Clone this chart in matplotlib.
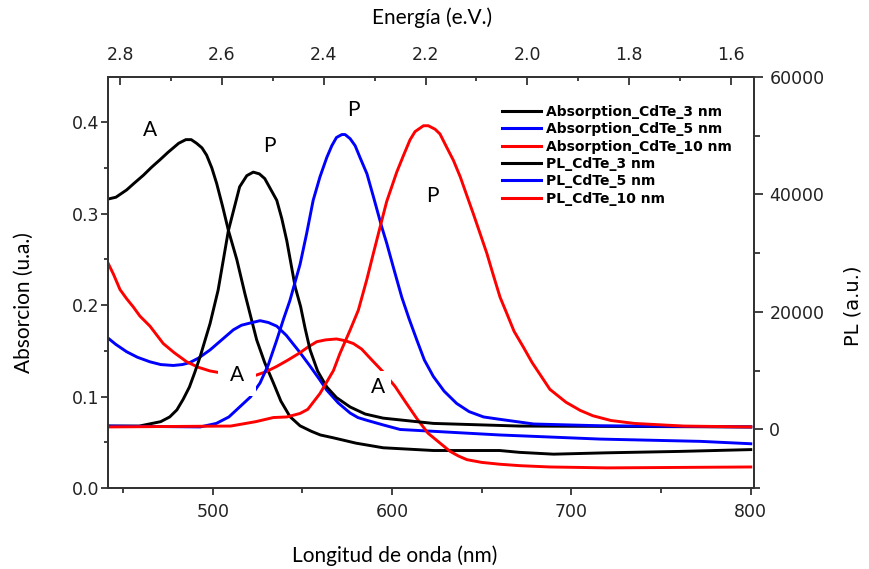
import numpy as np
import matplotlib
matplotlib.use('Agg')
import matplotlib.pyplot as plt
from matplotlib.ticker import MultipleLocator

plt.rcParams.update({'font.family': 'DejaVu Sans', 'axes.linewidth': 1.4})

### absorption spectra (left axis, u.a.)
wl_abs3 = [441.6, 446, 452, 456, 461.3, 466, 470.6, 475, 478, 481, 485, 488, 491, 494, 496.6, 499.5,
           502.2, 505.5, 508.7, 513.4, 518, 524.5, 529, 533.8, 538, 543.1, 548.7, 555, 560, 567, 580,
           595, 623, 660, 671, 690, 720, 760, 800]
abs3 = [0.316, 0.318, 0.326, 0.333, 0.342, 0.351, 0.359, 0.367, 0.372, 0.377, 0.381, 0.381, 0.377, 0.372,
        0.364, 0.350, 0.333, 0.308, 0.282, 0.250, 0.212, 0.162, 0.137, 0.115, 0.095, 0.078, 0.068, 0.062,
        0.058, 0.055, 0.049, 0.044, 0.041, 0.041, 0.039, 0.037, 0.0385, 0.040, 0.042]

wl_abs5 = [441.6, 446, 452, 458, 465, 471, 478, 483, 487, 492, 498.5, 505, 511.5, 516, 520, 526.4,
           531, 535.7, 541, 548.7, 554, 559.8, 563.6, 570, 576.6, 581, 586, 595, 604.5, 623, 660, 716,
           772, 800]
abs5 = [0.164, 0.157, 0.149, 0.143, 0.138, 0.135, 0.134, 0.135, 0.137, 0.142, 0.151, 0.162, 0.173, 0.178,
        0.180, 0.183, 0.181, 0.177, 0.167, 0.148, 0.134, 0.118, 0.107, 0.093, 0.082, 0.077, 0.074, 0.069,
        0.064, 0.062, 0.058, 0.0535, 0.051, 0.0484]

wl_abs10 = [441.6, 444.6, 448.3, 452, 455.7, 459.4, 465, 468.5, 472.4, 478.5, 485.5, 492, 498.5, 510,
            523.6, 529.5, 535.7, 542, 548.7, 553, 558, 563, 569, 574, 578.4, 583, 588.7, 595, 601.7,
            607.5, 613.8, 620, 626.8, 632.4, 637, 641.7, 650, 660, 671.4, 688, 720, 760, 800]
abs10 = [0.246, 0.234, 0.217, 0.207, 0.198, 0.188, 0.177, 0.168, 0.158, 0.148, 0.138, 0.132, 0.128, 0.124,
         0.123, 0.127, 0.133, 0.140, 0.148, 0.154, 0.160, 0.162, 0.163, 0.161, 0.158, 0.152, 0.140, 0.127,
         0.111, 0.094, 0.076, 0.060, 0.049, 0.040, 0.035, 0.031, 0.028, 0.026, 0.0244, 0.023, 0.022, 0.0225,
         0.023]

### photoluminescence (right axis, a.u.)
wl_pl3 = [441.6, 459, 471, 476, 480, 483.5, 487, 490, 493, 498.5, 503, 508.7, 515, 519, 522.6, 526,
          529, 535.7, 538.5, 541.3, 546, 549, 551.5, 554.3, 558.5, 563.6, 569, 576.6, 585, 595, 623,
          671, 800]
pl3 = [550, 550, 1300, 2100, 3300, 5100, 7200, 9700, 12400, 18000, 23700, 33800, 41300, 43200, 43800,
       43500, 42700, 39000, 35900, 32100, 24200, 20900, 17200, 13500, 9900, 7200, 5400, 3800, 2600, 1900,
       1000, 550, 400]

wl_pl5 = [441.6, 493, 502, 509, 515, 521, 526.4, 531, 535.7, 539.5, 543, 548.7, 552.4, 556, 559.8,
          563.6, 566.4, 569, 572, 573.8, 576.6, 579.4, 582.1, 586, 589.6, 594.2, 597, 600.7, 605.4,
          609.5, 613.8, 618, 623, 629, 636, 643, 651, 660, 679, 716, 800]
pl5 = [550, 400, 1000, 2100, 3800, 5500, 7900, 11000, 15200, 18800, 21900, 28100, 33400, 39000, 43000,
       46300, 48300, 49700, 50200, 50200, 49500, 48300, 46300, 43500, 39600, 34500, 31700, 27600, 22500,
       18800, 15200, 11800, 9000, 6500, 4400, 3000, 2100, 1700, 900, 600, 400]

wl_pl10 = [441.6, 510, 524, 533.8, 541.3, 548.7, 553, 559.8, 567.3, 570.9, 576.6, 581.2, 585.9, 589.6,
           594.2, 597, 602.6, 606.3, 610, 612.8, 617.5, 620.2, 624, 626.7, 630.5, 634.2, 638, 641.7,
           645.3, 649, 652.8, 656.5, 660.2, 664, 668, 673, 678, 688, 697, 705, 712, 722, 735, 762.5, 800]
pl10 = [400, 550, 1300, 2000, 2100, 2700, 3400, 6100, 10000, 12900, 16900, 20300, 25500, 30000,
        35500, 38800, 43800, 46600, 49300, 50700, 51700, 51700, 51100, 50300, 48000, 45800, 43000, 39800,
        36700, 33400, 30000, 26200, 22500, 19700, 16700, 14100, 11400, 6800, 4600, 3200, 2300, 1500, 1000,
        550, 400]

labels = ['Absorption_CdTe_3 nm', 'Absorption_CdTe_5 nm', 'Absorption_CdTe_10 nm',
          'PL_CdTe_3 nm', 'PL_CdTe_5 nm', 'PL_CdTe_10 nm']
colors = ['black', '#0000ff', '#ff0000']

# peak markers: (text, wavelength, absorbance)
peak_notes = [('A', 465.0, 0.392), ('P', 531.4, 0.374), ('P', 578.2, 0.4135), ('P', 622.3, 0.319)]
gap_notes = [('A', 513.5, 0.124, 8.5), ('A', 592.2, 0.111, 4.0)]

calibri_like = ['Lato', 'DejaVu Sans']
spine_col = '#333333'

fig = plt.figure(figsize=(8.69, 5.69), dpi=100)
ax = fig.add_axes([108 / 869, 1 - 488 / 569, 646 / 869, 411 / 569])
axr = ax.twinx()
axt = ax.twiny()

lw = 2.1
h_abs = []
for wl, y, c in zip([wl_abs3, wl_abs5, wl_abs10], [abs3, abs5, abs10], colors):
    h_abs += ax.plot(wl, y, color=c, lw=lw, solid_joinstyle='round')
h_pl = []
for wl, y, c in zip([wl_pl3, wl_pl5, wl_pl10], [pl3, pl5, pl10], colors):
    h_pl += axr.plot(wl, y, color=c, lw=lw, solid_joinstyle='round')

ax.set_xlim(441.6, 801.8)
ax.set_ylim(0, 0.4495)
axr.set_ylim(-10000, 60000)
axt.set_xlim(2.8236, 1.5548)

ax.xaxis.set_major_locator(MultipleLocator(100))
ax.xaxis.set_minor_locator(MultipleLocator(50))
ax.yaxis.set_major_locator(MultipleLocator(0.1))
ax.yaxis.set_minor_locator(MultipleLocator(0.05))
axr.yaxis.set_major_locator(MultipleLocator(20000))
axr.yaxis.set_minor_locator(MultipleLocator(10000))
axt.xaxis.set_major_locator(MultipleLocator(0.2))
axt.xaxis.set_minor_locator(MultipleLocator(0.1))

tick_kw = dict(labelsize=12.5, labelcolor='#222222', color=spine_col, width=1.3)
ax.tick_params(axis='x', which='major', direction='out', length=5, pad=6, **tick_kw)
ax.tick_params(axis='x', which='minor', direction='out', length=3.5, color=spine_col, width=1.3)
ax.tick_params(axis='y', which='major', direction='out', length=4.8, pad=1.5, **tick_kw)
ax.tick_params(axis='y', which='minor', direction='out', length=3, color=spine_col, width=1.3)
axr.tick_params(axis='y', which='major', direction='out', length=6.5, pad=4.5, **tick_kw)
axr.tick_params(axis='y', which='minor', direction='out', length=4.3, color=spine_col, width=1.3)
axt.tick_params(axis='x', which='major', direction='in', length=6, pad=9, **tick_kw)
axt.tick_params(axis='x', which='minor', direction='in', length=3, color=spine_col, width=1.3)

for a in (ax, axr, axt):
    for s in a.spines.values():
        s.set_color(spine_col)
        s.set_linewidth(1.4)

for txt, x, y in peak_notes:
    axt.text(x, y, txt, transform=ax.transData, ha='center', va='center',
             fontsize=15, family=calibri_like, zorder=10)
for txt, x, y, p in gap_notes:
    axt.text(x, y, txt, transform=ax.transData, ha='center', va='center',
             fontsize=15, family=calibri_like, zorder=10,
             bbox=dict(facecolor='white', edgecolor='none', pad=p))

leg = axt.legend(h_abs + h_pl, labels, loc='upper left', bbox_to_anchor=(502 / 869, 1 - 105 / 569),
                 bbox_transform=fig.transFigure, frameon=False, borderpad=0, borderaxespad=0,
                 handlelength=2.8, handletextpad=0.35, labelspacing=0.24,
                 prop={'family': 'DejaVu Sans', 'weight': 'bold', 'size': 10})
for line in leg.get_lines():
    line.set_linewidth(2.2)

fig.text(432 / 869, 1 - 18 / 569, 'Energía (e.V.)', ha='center', va='center', fontsize=15, family=calibri_like)
fig.text(395 / 869, 1 - 556 / 569, 'Longitud de onda (nm)', ha='center', va='center', fontsize=15, family=calibri_like)
fig.text(24 / 869, 1 - 303 / 569, 'Absorcion (u.a.)', ha='center', va='center', rotation=90, fontsize=15, family=calibri_like)
fig.text(853 / 869, 1 - 306 / 569, 'PL (a.u.)', ha='center', va='center', rotation=90, fontsize=14, family='DejaVu Sans')

fig.savefig('out.png', dpi=100)
